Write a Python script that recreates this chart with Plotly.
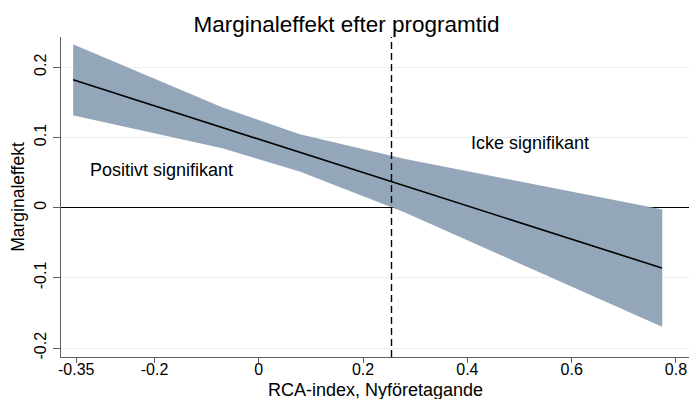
import plotly.graph_objects as go

# Data
x_at = [-0.356, -0.069, 0.078, 0.279, 0.773]
margin = [0.182, 0.114, 0.079, 0.032, -0.086]
ci_upper = [0.232, 0.142, 0.104, 0.069, -0.003]
ci_lower = [0.132, 0.085, 0.052, -0.006, -0.169]
threshold = 0.2545

x_ticks = [-0.35, -0.2, 0, 0.2, 0.4, 0.6, 0.8]
x_ticklabels = ["-0.35", "-0.2", "0", "0.2", "0.4", "0.6", "0.8"]
y_ticks = [-0.2, -0.1, 0, 0.1, 0.2]
y_ticklabels = ["-0.2", "-0.1", "0", "0.1", "0.2"]

FONT = "Liberation Sans, Arial, sans-serif"
AXIS_COL = "#5f5f5f"

fig = go.Figure()
fig.add_trace(go.Scatter(
    x=x_at + x_at[::-1], y=ci_upper + ci_lower[::-1],
    fill="toself", fillcolor="#94a6b9", line=dict(width=0.6, color="#8597ab"),
    mode="lines", hoverinfo="skip", showlegend=False))
fig.add_trace(go.Scatter(
    x=x_at, y=margin, mode="lines",
    line=dict(color="black", width=1.6), showlegend=False))

fig.add_shape(type="line", xref="x", yref="paper", x0=threshold, x1=threshold,
              y0=0, y1=1, line=dict(color="black", width=1.4, dash="7px,4px"))

fig.add_annotation(x=-0.186, y=0.053, text="Positivt signifikant", showarrow=False,
                   font=dict(family=FONT, size=18, color="black"))
fig.add_annotation(x=0.521, y=0.092, text="Icke signifikant", showarrow=False,
                   font=dict(family=FONT, size=18, color="black"))
# x-axis title placed explicitly below the tick labels
fig.add_annotation(x=0.5, xref="paper", y=-0.104, yref="paper", yanchor="middle",
                   text="RCA-index, Nyföretagande", showarrow=False,
                   font=dict(family=FONT, size=18, color="black"))

fig.update_layout(
    width=689, height=399,
    margin=dict(l=61, r=0, t=37, b=42),
    paper_bgcolor="white", plot_bgcolor="white",
    title=dict(text="Marginaleffekt efter programtid", x=0.503, xref="container",
               y=0.94, yref="container", xanchor="center", yanchor="middle",
               font=dict(family=FONT, size=22.5, color="black")),
    xaxis=dict(range=[-0.3793, 0.825], tickvals=x_ticks, ticktext=x_ticklabels,
               showgrid=False, zeroline=False, showline=True, linecolor=AXIS_COL,
               linewidth=1.3, ticks="outside", ticklen=5, tickcolor=AXIS_COL,
               tickwidth=1.2, ticklabelstandoff=-7,
               tickfont=dict(family=FONT, size=16, color="black")),
    yaxis=dict(range=[-0.2127, 0.243], tickvals=y_ticks, ticktext=y_ticklabels,
               tickangle=-90, showgrid=True, gridcolor="#e7eff1", gridwidth=1,
               zeroline=True, zerolinecolor="black", zerolinewidth=1.3,
               showline=True, linecolor=AXIS_COL, linewidth=1.3,
               ticks="outside", ticklen=7, tickcolor=AXIS_COL, tickwidth=1.2,
               tickfont=dict(family=FONT, size=16, color="black"),
               title=dict(text="Marginaleffekt", standoff=3,
                          font=dict(family=FONT, size=17.5, color="black"))),
)

fig.write_html("out.html")
